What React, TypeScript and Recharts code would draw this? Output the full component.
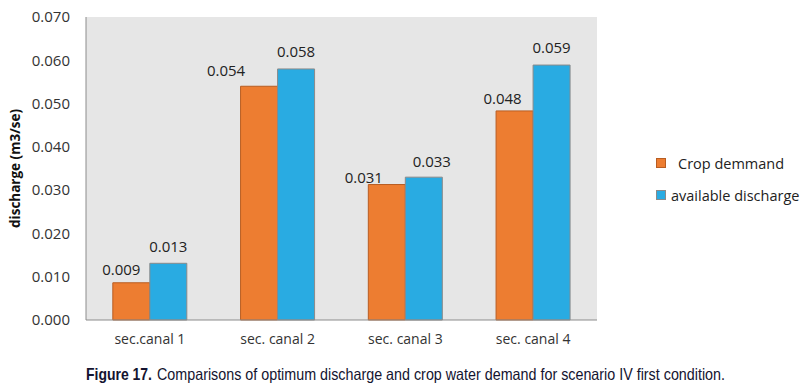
import React from 'react';
import {BarChart, Bar, XAxis, YAxis, CartesianGrid, LabelList} from "recharts";

const canals = ["sec.canal 1", "sec. canal 2", "sec. canal 3", "sec. canal 4"];
const cropDemand = [0.0086, 0.054, 0.0313, 0.0483];
const availableDischarge = [0.0131, 0.058, 0.033, 0.0589];
const yTicks = [0, 0.01, 0.02, 0.03, 0.04, 0.05, 0.06, 0.07];

// hand-placed label nudges as in the original (px)
const cropLabelShift = [-10, -33, -23, -12];
const cropLabelRise = [14, 16, 8, 13];
const availLabelShift = [0, 0, 8, 0];
const availLabelRise = [17, 17.5, 16, 18];

const data = canals.map((name, i) => ({name, crop: cropDemand[i], avail: availableDischarge[i]}));

const font = "'Open Sans', 'Noto Sans', sans-serif";
const captionFont = "'Liberation Sans', Arial, sans-serif";
const fmt = (v: number) => v.toFixed(3);

const legendItems = [
    {label: "Crop demmand", fill: "#ED7D31", stroke: "#b85d22", gap: 12},
    {label: "available discharge", fill: "#29ABE2", stroke: "#8a8a8a", gap: 5},
];

const YLabel = (props: any) => {
    const vb = props.viewBox;
    const cx = vb.x + 15;
    const cy = vb.y + vb.height / 2;
    return <text x={cx} y={cy} transform={`rotate(-90 ${cx} ${cy})`} textAnchor="middle" dominantBaseline="central"
                 fontFamily={font} fontSize={13.5} fontWeight="bold" fill="#111">discharge (m3/se)</text>;
};

const barLabel = (shift: number[], rise: number[]) => (p: any) => {
    const i = typeof p.index === 'number' ? p.index : Math.floor((Number(p.x) - 86) / 127.75);
    return <text x={Number(p.x) + Number(p.width) / 2 + (shift[i] || 0)} y={Number(p.y) - (rise[i] || 15)}
                 textAnchor="middle" dominantBaseline="central" fontFamily={font} fontSize={15} fill="#222">
        {fmt(Number(p.value))}
    </text>;
};

export default function App() {
    return <div style={{position: 'absolute', left: 0, top: 0, width: 807, height: 388, background: '#fff'}}>
        <BarChart width={807} height={360} data={data} margin={{top: 17, right: 210, left: 0, bottom: 0}}
                  barCategoryGap="21%" barGap={0}>
            <CartesianGrid fill="#e6e6e6" stroke="none" horizontal={false} vertical={false}/>
            <XAxis dataKey="name" height={40} tickLine={false} tickSize={0} tickMargin={14}
                   axisLine={{stroke: '#8c8c8c'}} tick={{fontFamily: font, fontSize: 14, fill: '#333'}}/>
            <YAxis width={86} domain={[0, 0.07]} ticks={yTicks} tickFormatter={fmt} tickLine={false} tickSize={0}
                   tickMargin={16} axisLine={{stroke: '#8c8c8c'}} tick={{fontFamily: font, fontSize: 15, fill: '#333'}}
                   label={<YLabel/>}/>
            <Bar dataKey="crop" name="Crop demmand" fill="#ED7D31" stroke="#b85d22" strokeWidth={1} isAnimationActive={false}>
                <LabelList dataKey="crop" content={barLabel(cropLabelShift, cropLabelRise)}/>
            </Bar>
            <Bar dataKey="avail" name="available discharge" fill="#29ABE2" stroke="#8a8a8a" strokeWidth={1} isAnimationActive={false}>
                <LabelList dataKey="avail" content={barLabel(availLabelShift, availLabelRise)}/>
            </Bar>
        </BarChart>
        <div style={{position: 'absolute', left: 656, top: 147, fontFamily: font, fontSize: 14.5, color: '#222', whiteSpace: 'nowrap'}}>
            {legendItems.map((it, i) => <div key={i} style={{display: 'flex', alignItems: 'center', height: 32}}>
                <span style={{width: 8, height: 8, background: it.fill, border: `1px solid ${it.stroke}`, marginRight: it.gap}}/>
                <span>{it.label}</span>
            </div>)}
        </div>
        <svg style={{position: 'absolute', left: 0, top: 355}} width={807} height={33}>
            <text x={86} y={25} textLength={66} lengthAdjust="spacingAndGlyphs"
                  fontFamily={captionFont} fontSize={16.5} fontWeight="bold" fill="#141430">Figure 17.</text>
            <text x={157} y={25} textLength={568} lengthAdjust="spacingAndGlyphs"
                  fontFamily={captionFont} fontSize={16.5} fill="#141430">
                Comparisons of optimum discharge and crop water demand for scenario IV first condition.
            </text>
        </svg>
    </div>;
}
